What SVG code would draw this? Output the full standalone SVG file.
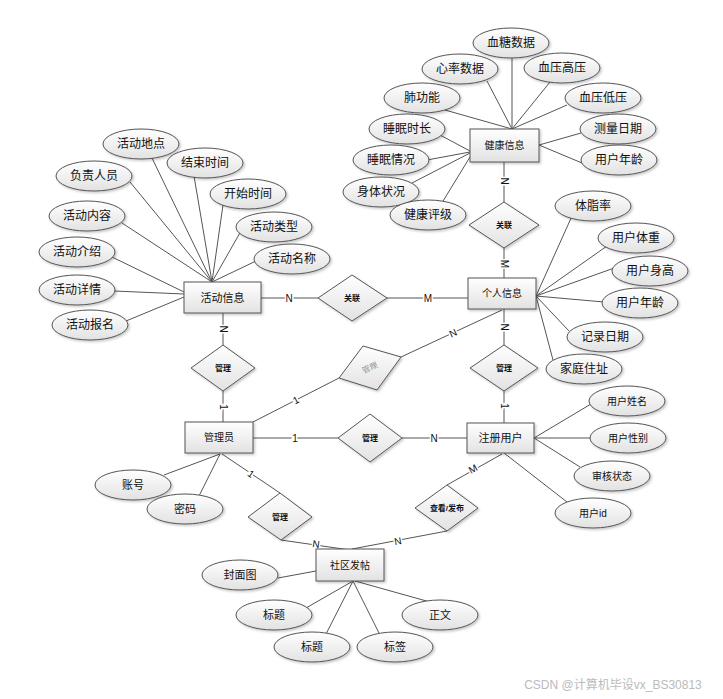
<svg xmlns="http://www.w3.org/2000/svg" width="723" height="699" viewBox="0 0 723 699">
<defs>
<linearGradient id="g" x1="0" y1="0" x2="0" y2="1"><stop offset="0" stop-color="#ffffff"/><stop offset="1" stop-color="#e2e2e2"/></linearGradient>
<filter id="sh" x="-20%" y="-20%" width="140%" height="150%"><feDropShadow dx="1.5" dy="1.5" stdDeviation="1" flood-color="#000" flood-opacity="0.22"/></filter>
</defs>
<style>
.e,.r,.d{fill:url(#g);stroke:#555;stroke-width:1;filter:url(#sh)}
.c line,.c polyline{stroke:#555;stroke-width:1;fill:none}
text{font-family:"Liberation Sans","Noto Sans CJK SC",sans-serif;text-anchor:middle;dominant-baseline:central;fill:#111}
.t{font-size:12px}
.rt{font-size:10px}
.dt{font-size:8px;font-weight:bold}
.k{font-size:10px;paint-order:stroke;stroke:#fff;stroke-width:3px}
</style>
<rect width="723" height="699" fill="#fff"/>
<g id="connectors" class="c">
<line x1="512" y1="58" x2="512" y2="129"/>
<line x1="487" y1="81" x2="512" y2="129"/>
<line x1="550" y1="82" x2="512" y2="129"/>
<line x1="445" y1="110" x2="512" y2="129"/>
<line x1="567" y1="105" x2="512" y2="129"/>
<line x1="440" y1="135" x2="470" y2="151"/>
<line x1="427" y1="160" x2="470" y2="152"/>
<line x1="412" y1="183" x2="470" y2="153"/>
<line x1="440" y1="206" x2="470" y2="157"/>
<line x1="581" y1="133" x2="539" y2="145"/>
<line x1="582" y1="163" x2="539" y2="145"/>
<line x1="504" y1="162" x2="504" y2="202"/>
<line x1="504" y1="248" x2="504" y2="278"/>
<line x1="536" y1="296" x2="572" y2="216"/>
<line x1="536" y1="296" x2="607" y2="246"/>
<line x1="536" y1="296" x2="617" y2="267"/>
<line x1="536" y1="296" x2="604" y2="302"/>
<line x1="536" y1="296" x2="569" y2="331"/>
<line x1="536" y1="296" x2="553" y2="360"/>
<line x1="212" y1="282" x2="151" y2="156"/>
<line x1="212" y1="282" x2="194" y2="176"/>
<line x1="212" y1="282" x2="130" y2="182"/>
<line x1="212" y1="282" x2="223" y2="205"/>
<line x1="212" y1="282" x2="122" y2="223"/>
<line x1="212" y1="282" x2="241" y2="231"/>
<line x1="212" y1="282" x2="256" y2="261"/>
<line x1="184" y1="292" x2="112" y2="257"/>
<line x1="184" y1="294" x2="114" y2="291"/>
<line x1="184" y1="297" x2="126" y2="321"/>
<line x1="261" y1="298" x2="318" y2="298"/>
<line x1="387" y1="298" x2="468" y2="298"/>
<line x1="223" y1="313" x2="223" y2="345"/>
<line x1="223" y1="391" x2="223" y2="422"/>
<line x1="253" y1="438" x2="338" y2="438"/>
<line x1="402" y1="438" x2="467" y2="438"/>
<line x1="504" y1="309" x2="504" y2="345"/>
<line x1="504" y1="391" x2="504" y2="423"/>
<line x1="502" y1="310" x2="401" y2="357"/>
<line x1="253" y1="422" x2="339" y2="378"/>
<line x1="534" y1="438" x2="591" y2="404"/>
<line x1="534" y1="438" x2="591" y2="438"/>
<line x1="534" y1="438" x2="580" y2="467"/>
<line x1="504" y1="453" x2="567" y2="502"/>
<line x1="502" y1="454" x2="447" y2="485"/>
<line x1="447" y1="531" x2="352" y2="549"/>
<line x1="222" y1="454" x2="280" y2="493"/>
<line x1="281" y1="540" x2="350" y2="550"/>
<line x1="220" y1="454" x2="164" y2="475"/>
<line x1="220" y1="454" x2="199" y2="496"/>
<line x1="278" y1="578" x2="316" y2="571"/>
<line x1="353" y1="581" x2="306" y2="608"/>
<line x1="353" y1="581" x2="326" y2="634"/>
<line x1="353" y1="581" x2="380" y2="635"/>
<line x1="355" y1="581" x2="430" y2="602"/>
<text class="k" x="504" y="181" transform="rotate(90 504 181)">N</text>
<text class="k" x="504" y="264" transform="rotate(90 504 264)">M</text>
<text class="k" x="289" y="298">N</text>
<text class="k" x="428" y="298">M</text>
<text class="k" x="223" y="329" transform="rotate(90 223 329)">N</text>
<text class="k" x="223" y="407" transform="rotate(90 223 407)">1</text>
<text class="k" x="295" y="438">1</text>
<text class="k" x="434" y="438">N</text>
<text class="k" x="504" y="327" transform="rotate(90 504 327)">N</text>
<text class="k" x="504" y="406" transform="rotate(90 504 406)">1</text>
<text class="k" x="453" y="333" transform="rotate(-25 453 333)">N</text>
<text class="k" x="296" y="400" transform="rotate(-27 296 400)">1</text>
<text class="k" x="473" y="469" transform="rotate(-29 473 469)">M</text>
<text class="k" x="398" y="541" transform="rotate(-11 398 541)">N</text>
<text class="k" x="251" y="474" transform="rotate(34 251 474)">1</text>
<text class="k" x="316" y="544" transform="rotate(8 316 544)">N</text>
</g>
<g id="n-health"><rect class="r" x="470" y="129" width="69" height="33"/><text class="rt" x="504.5" y="145.5">健康信息</text></g>
<g id="a-xuetang"><ellipse class="e" cx="511" cy="43" rx="38" ry="15"/><text class="t" x="511" y="43">血糖数据</text></g>
<g id="a-xinlv"><ellipse class="e" cx="460" cy="69" rx="38" ry="15"/><text class="t" x="460" y="69">心率数据</text></g>
<g id="a-gaoya"><ellipse class="e" cx="562" cy="68" rx="38" ry="15"/><text class="t" x="562" y="68">血压高压</text></g>
<g id="a-fei"><ellipse class="e" cx="422" cy="98" rx="38" ry="15"/><text class="t" x="422" y="98">肺功能</text></g>
<g id="a-diya"><ellipse class="e" cx="603" cy="98" rx="38" ry="15"/><text class="t" x="603" y="98">血压低压</text></g>
<g id="a-shichang"><ellipse class="e" cx="407" cy="129" rx="38" ry="15"/><text class="t" x="407" y="129">睡眠时长</text></g>
<g id="a-celiang"><ellipse class="e" cx="618" cy="129" rx="38" ry="15"/><text class="t" x="618" y="129">测量日期</text></g>
<g id="a-qingkuang"><ellipse class="e" cx="391" cy="160" rx="38" ry="15"/><text class="t" x="391" y="160">睡眠情况</text></g>
<g id="a-nianling1"><ellipse class="e" cx="619" cy="160" rx="38" ry="15"/><text class="t" x="619" y="160">用户年龄</text></g>
<g id="a-shenti"><ellipse class="e" cx="381" cy="192" rx="38" ry="15"/><text class="t" x="381" y="192">身体状况</text></g>
<g id="a-pingji"><ellipse class="e" cx="428" cy="215" rx="38" ry="15"/><text class="t" x="428" y="215">健康评级</text></g>
<g id="r-guanlian1"><polygon class="d" points="504,202 539,225 504,248 469,225"/><text class="dt" x="504" y="225">关联</text></g>
<g id="n-personal"><rect class="r" x="468" y="278" width="68" height="31"/><text class="rt" x="502" y="293.5">个人信息</text></g>
<g id="a-tizhi"><ellipse class="e" cx="593" cy="206" rx="38" ry="15"/><text class="t" x="593" y="206">体脂率</text></g>
<g id="a-tizhong"><ellipse class="e" cx="636" cy="238" rx="38" ry="15"/><text class="t" x="636" y="238">用户体重</text></g>
<g id="a-shengao"><ellipse class="e" cx="650" cy="271" rx="38" ry="15"/><text class="t" x="650" y="271">用户身高</text></g>
<g id="a-nianling2"><ellipse class="e" cx="640" cy="303" rx="38" ry="15"/><text class="t" x="640" y="303">用户年龄</text></g>
<g id="a-jilu"><ellipse class="e" cx="605" cy="337" rx="38" ry="15"/><text class="t" x="605" y="337">记录日期</text></g>
<g id="a-zhuzhi"><ellipse class="e" cx="584" cy="369" rx="38" ry="15"/><text class="t" x="584" y="369">家庭住址</text></g>
<g id="n-activity"><rect class="r" x="184" y="282" width="77" height="31"/><text class="rt" x="222.5" y="298" style="font-size:11px">活动信息</text></g>
<g id="a-didian"><ellipse class="e" cx="141" cy="144" rx="38" ry="15"/><text class="t" x="141" y="144">活动地点</text></g>
<g id="a-jieshu"><ellipse class="e" cx="205" cy="163" rx="38" ry="15"/><text class="t" x="205" y="163">结束时间</text></g>
<g id="a-fuze"><ellipse class="e" cx="94" cy="176" rx="38" ry="15"/><text class="t" x="94" y="176">负责人员</text></g>
<g id="a-kaishi"><ellipse class="e" cx="248" cy="194" rx="38" ry="15"/><text class="t" x="248" y="194">开始时间</text></g>
<g id="a-neirong"><ellipse class="e" cx="87" cy="216" rx="38" ry="15"/><text class="t" x="87" y="216">活动内容</text></g>
<g id="a-leixing"><ellipse class="e" cx="274" cy="227" rx="38" ry="15"/><text class="t" x="274" y="227">活动类型</text></g>
<g id="a-jieshao"><ellipse class="e" cx="77" cy="252" rx="38" ry="15"/><text class="t" x="77" y="252">活动介绍</text></g>
<g id="a-mingcheng"><ellipse class="e" cx="292" cy="259" rx="38" ry="15"/><text class="t" x="292" y="259">活动名称</text></g>
<g id="a-xiangqing"><ellipse class="e" cx="77" cy="290" rx="38" ry="15"/><text class="t" x="77" y="290">活动详情</text></g>
<g id="a-baoming"><ellipse class="e" cx="90" cy="325" rx="38" ry="15"/><text class="t" x="90" y="325">活动报名</text></g>
<g id="r-guanlian2"><polygon class="d" points="318,298 352,275 387,298 352,321"/><text class="dt" x="352" y="298">关联</text></g>
<g id="r-guanli1"><polygon class="d" points="223,345 255,368 223,391 191,368"/><text class="dt" x="223" y="368">管理</text></g>
<g id="r-guanli2"><polygon class="d" points="504,345 538,368 504,391 470,368"/><text class="dt" x="504" y="368">管理</text></g>
<g id="r-guanli3"><polygon class="d" points="339,378 363,346 401,357 377,390"/><text x="370" y="368" transform="rotate(-25 370 368)" style="font-size:8px;fill:#777;font-family:'Liberation Serif','Noto Serif CJK SC','Noto Sans CJK SC',serif">管理</text></g>
<g id="n-admin"><rect class="r" x="185" y="422" width="68" height="31"/><text class="rt" x="219" y="437.5">管理员</text></g>
<g id="r-guanli4"><polygon class="d" points="338,438 370,414 402,438 370,462"/><text class="dt" x="370" y="438">管理</text></g>
<g id="n-user"><rect class="r" x="467" y="423" width="67" height="30"/><text class="rt" x="500.5" y="438" style="font-size:11px">注册用户</text></g>
<g id="a-xingming"><ellipse class="e" cx="627" cy="401" rx="38" ry="15"/><text class="t" x="627" y="401" style="font-size:10px">用户姓名</text></g>
<g id="a-xingbie"><ellipse class="e" cx="628" cy="438" rx="38" ry="15"/><text class="t" x="628" y="438" style="font-size:10px">用户性别</text></g>
<g id="a-shenhe"><ellipse class="e" cx="612" cy="476" rx="38" ry="15"/><text class="t" x="612" y="476" style="font-size:10px">审核状态</text></g>
<g id="a-userid"><ellipse class="e" cx="593" cy="513" rx="38" ry="15"/><text class="t" x="593" y="513" style="font-size:10px">用户id</text></g>
<g id="a-zhanghao"><ellipse class="e" cx="133" cy="485" rx="38" ry="15"/><text class="t" x="133" y="485" style="font-size:11px">账号</text></g>
<g id="a-mima"><ellipse class="e" cx="185" cy="509" rx="38" ry="15"/><text class="t" x="185" y="509" style="font-size:11px">密码</text></g>
<g id="r-guanli5"><polygon class="d" points="280,493 312,517 281,540 248,517"/><text class="dt" x="280" y="517">管理</text></g>
<g id="r-fabu"><polygon class="d" points="447,485 478,508 447,531 415,508"/><text class="dt" x="447" y="508">查看/发布</text></g>
<g id="n-post"><rect class="r" x="316" y="549" width="68" height="32"/><text class="rt" x="350" y="565">社区发帖</text></g>
<g id="a-fengmian"><ellipse class="e" cx="240" cy="575" rx="38" ry="15"/><text class="t" x="240" y="575" style="font-size:11px">封面图</text></g>
<g id="a-biaoti1"><ellipse class="e" cx="274" cy="615" rx="38" ry="15"/><text class="t" x="274" y="615" style="font-size:11px">标题</text></g>
<g id="a-zhengwen"><ellipse class="e" cx="440" cy="615" rx="38" ry="15"/><text class="t" x="440" y="615" style="font-size:11px">正文</text></g>
<g id="a-biaoti2"><ellipse class="e" cx="312" cy="647" rx="38" ry="15"/><text class="t" x="312" y="647" style="font-size:11px">标题</text></g>
<g id="a-biaoqian"><ellipse class="e" cx="395" cy="647" rx="38" ry="15"/><text class="t" x="395" y="647" style="font-size:11px">标签</text></g>
<text x="613" y="685" style="font-size:12px;fill:#bbb">CSDN @计算机毕设vx_BS30813</text>
</svg>
